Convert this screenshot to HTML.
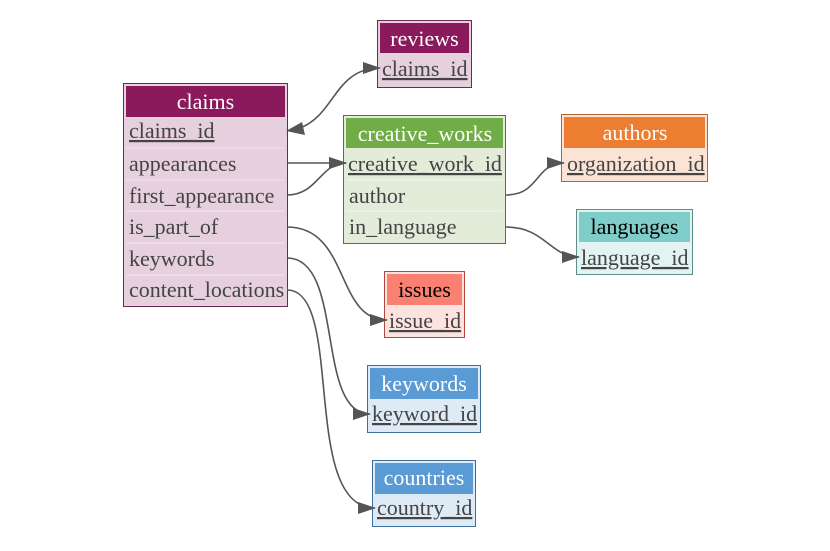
<!DOCTYPE html>
<html><head><meta charset="utf-8"><style>
body{margin:0;background:#fff;width:830px;height:546px;overflow:hidden}
svg text{font-family:"Liberation Serif",serif;font-size:22px}
.h{fill:#fff;text-anchor:middle}
.r{fill:#444}
</style></head><body>
<svg width="830" height="546" viewBox="0 0 830 546" xmlns="http://www.w3.org/2000/svg">
<defs>
<marker id="b" markerWidth="18" markerHeight="12" refX="17" refY="6" orient="auto" markerUnits="userSpaceOnUse" viewBox="0 0 18 12"><path d="M0,0 L18,6 L0,12z" fill="#555"/></marker></defs>

<!-- claims -->
<rect x="123.5" y="83.5" width="164" height="223" fill="#e6d0de" stroke="#6b2a55"/>
<rect x="126" y="86" width="159" height="31" fill="#8b1a5c"/>
<g stroke="#f3e6ee" stroke-width="1"><line x1="126" y1="148" x2="285" y2="148"/><line x1="126" y1="180" x2="285" y2="180"/><line x1="126" y1="211" x2="285" y2="211"/><line x1="126" y1="243" x2="285" y2="243"/><line x1="126" y1="275" x2="285" y2="275"/></g>
<text class="h" x="205.5" y="109">claims</text>
<text class="r" x="129" y="138" text-decoration="underline">claims_id</text>
<text class="r" x="129" y="171">appearances</text>
<text class="r" x="129" y="203">first_appearance</text>
<text class="r" x="129" y="234">is_part_of</text>
<text class="r" x="129" y="266">keywords</text>
<text class="r" x="129" y="297">content_locations</text>

<!-- reviews -->
<rect x="377.5" y="20.5" width="94" height="67" fill="#e6d0de" stroke="#6b2a55"/>
<rect x="380" y="23" width="89" height="30" fill="#8b1a5c"/>
<text class="h" x="424.5" y="46">reviews</text>
<text class="r" x="382" y="76" text-decoration="underline">claims_id</text>

<!-- creative_works -->
<rect x="343.5" y="115.5" width="162" height="128" fill="#e2ecd9" stroke="#4d7a33"/>
<rect x="346" y="118" width="157" height="30" fill="#70ad47"/>
<g stroke="#f2f7ee"><line x1="346" y1="180" x2="503" y2="180"/><line x1="346" y1="211" x2="503" y2="211"/></g>
<text class="h" x="425" y="141">creative_works</text>
<text class="r" x="348" y="171" text-decoration="underline">creative_work_id</text>
<text class="r" x="349" y="203">author</text>
<text class="r" x="349" y="234">in_language</text>

<!-- authors -->
<rect x="561.5" y="114.5" width="146" height="67" fill="#fbe4d5" stroke="#b5652b"/>
<rect x="564" y="117" width="141" height="31" fill="#ed7d31"/>
<text class="h" x="635" y="140">authors</text>
<text class="r" x="567" y="171" text-decoration="underline">organization_id</text>

<!-- languages -->
<rect x="576.5" y="209.5" width="116" height="65" fill="#e3f3f2" stroke="#5a8f8c"/>
<rect x="579" y="212" width="111" height="30" fill="#7ecdc9"/>
<text class="h" x="634.5" y="234" style="fill:#000">languages</text>
<text class="r" x="581" y="265" text-decoration="underline">language_id</text>

<!-- issues -->
<rect x="384.5" y="271.5" width="80" height="66" fill="#fde3e0" stroke="#b5473c"/>
<rect x="387" y="274" width="75" height="31" fill="#fa8072"/>
<text class="h" x="424.5" y="297" style="fill:#000">issues</text>
<text class="r" x="389" y="328" text-decoration="underline">issue_id</text>

<!-- keywords -->
<rect x="367.5" y="365.5" width="113" height="67" fill="#deeaf6" stroke="#3e6f9e"/>
<rect x="370" y="368" width="108" height="31" fill="#5b9bd5"/>
<text class="h" x="424" y="391">keywords</text>
<text class="r" x="372" y="421" text-decoration="underline">keyword_id</text>

<!-- countries -->
<rect x="372.5" y="460.5" width="103" height="66" fill="#deeaf6" stroke="#3e6f9e"/>
<rect x="375" y="463" width="98" height="31" fill="#5b9bd5"/>
<text class="h" x="424" y="485">countries</text>
<text class="r" x="377" y="515" text-decoration="underline">country_id</text>

<!-- edges -->
<g fill="none" stroke="#555" stroke-width="1.6">
<path d="M300,128 C335,115 335,68 380,68" marker-end="url(#b)"/>
<path d="M287,163 L346,163" marker-end="url(#b)"/>
<path d="M287,195 C318,195 320,163 346,163" marker-end="url(#b)"/>
<path d="M287,227 C350,227 335,320 387,320" marker-end="url(#b)"/>
<path d="M287,258 C345,258 315,414 370,414" marker-end="url(#b)"/>
<path d="M287,290 C345,290 300,508 375,508" marker-end="url(#b)"/>
<path d="M506,195 C540,195 535,163 564,163" marker-end="url(#b)"/>
<path d="M506,227 C545,227 550,257 579,257" marker-end="url(#b)"/>
</g>
<path d="M286,131 L302,122 L305,135z" fill="#555"/>
</svg>
</body></html>
